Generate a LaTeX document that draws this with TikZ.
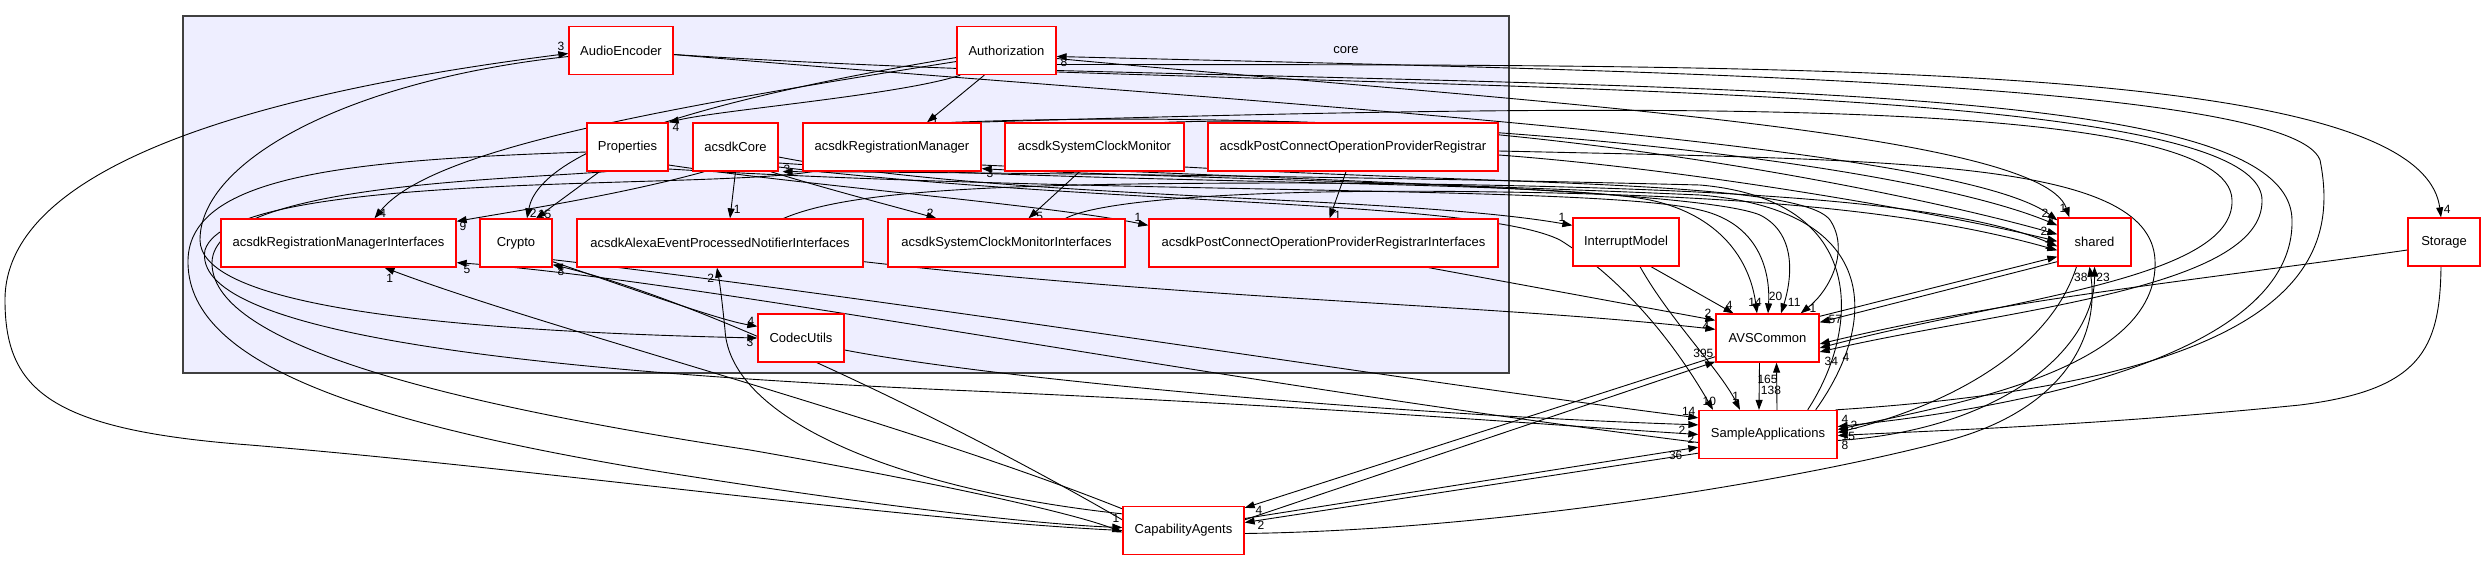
\documentclass[tikz,border=0pt]{standalone}
\usepackage{fontspec}
\setmainfont{Liberation Sans}
\usetikzlibrary{arrows.meta}
\definecolor{clusterfill}{HTML}{EEEEFF}
\definecolor{clusterline}{HTML}{404040}
\pgfdeclarelayer{background}
\pgfdeclarelayer{edges}
\pgfsetlayers{background,edges,main}

\begin{document}
\begin{tikzpicture}[x=1pt, y=-1pt,
	dir/.style={draw=red, line width=1.3pt, fill=white, minimum height=48pt, inner sep=2pt, font=\fontsize{13}{15}\selectfont},
	dep/.style={-{Triangle[length=10pt,width=7pt]}, line width=0.9pt},
	lbl/.style={font=\fontsize{12}{14}\selectfont, inner sep=0.5pt}]
\useasboundingbox (0,0) rectangle (2485,560);

% the core folder
\begin{pgfonlayer}{background}
\node[draw=clusterline, line width=1.3pt, fill=clusterfill, minimum width=1326pt, minimum height=357pt, inner sep=0pt] (core) at (846,194.5) {};
\end{pgfonlayer}
\node[font=\fontsize{13}{15}\selectfont] (coreLabel) at (1346,50.5) {core};

\node[dir, minimum width=104pt] (audioEncoder) at (621,50.5) {AudioEncoder};
\node[dir, minimum width=99pt] (authorization) at (1006.5,50.5) {Authorization};
\node[dir, minimum width=81pt] (properties) at (627.5,147) {Properties};
\node[dir, minimum width=85pt] (acsdkCore) at (735.5,147) {acsdkCore};
\node[dir, minimum width=178pt] (regManager) at (892,147) {acsdkRegistrationManager};
\node[dir, minimum width=179pt] (clockMonitor) at (1094.5,147) {acsdkSystemClockMonitor};
\node[dir, minimum width=290pt] (postConnect) at (1353,147) {acsdkPostConnectOperationProviderRegistrar};
\node[dir, minimum width=235pt] (regManagerIfaces) at (338.5,243) {acsdkRegistrationManagerInterfaces};
\node[dir, minimum width=72pt] (crypto) at (516,243) {Crypto};
\node[dir, minimum width=286pt] (eventNotifierIfaces) at (720,243) {acsdkAlexaEventProcessedNotifierInterfaces};
\node[dir, minimum width=237pt] (clockMonitorIfaces) at (1006.5,243) {acsdkSystemClockMonitorInterfaces};
\node[dir, minimum width=349pt] (postConnectIfaces) at (1323.5,243) {acsdkPostConnectOperationProviderRegistrarInterfaces};
\node[dir, minimum width=86pt] (codecUtils) at (801,338) {CodecUtils};

% outside the folder
\node[dir, minimum width=106pt] (interruptModel) at (1626,242) {InterruptModel};
\node[dir, minimum width=73pt] (shared) at (2094.5,242) {shared};
\node[dir, minimum width=72pt] (storage) at (2444,242) {Storage};
\node[dir, minimum width=103pt] (avsCommon) at (1767.5,338) {AVSCommon};
\node[dir, minimum width=138pt] (sampleApps) at (1768,434.5) {SampleApplications};
\node[dir, minimum width=121pt] (capabilityAgents) at (1183.5,530.5) {CapabilityAgents};

\begin{pgfonlayer}{edges}
% inside core
\draw[dep] ([xshift=4pt]authorization.south west) .. controls (900,95) and (720,110) .. (properties.north east) node[lbl, anchor=north west, xshift=3pt]{4};
\draw[dep] ([xshift=28pt]authorization.south west) -- ([xshift=35pt]regManager.north) node[lbl, anchor=south west, xshift=4pt, yshift=-2pt]{1};
\draw[dep] ([yshift=-7pt]authorization.west) .. controls (700,100) and (540,150) .. ([xshift=11pt]crypto.north) node[lbl, anchor=south west, xshift=2pt]{2};
\draw[dep] ([yshift=-11pt]authorization.west) .. controls (650,110) and (430,150) .. ([xshift=36pt]regManagerIfaces.north) node[lbl, anchor=south west, xshift=4pt]{4};
\draw[dep] ([xshift=-28pt]properties.south) -- ([xshift=20pt]crypto.north) node[lbl, anchor=south west, xshift=1pt, yshift=-1pt]{15};
\draw[dep] (acsdkCore.south) -- ([xshift=10pt]eventNotifierIfaces.north) node[lbl, anchor=south west, xshift=3pt, yshift=4pt]{1};
\draw[dep] ([xshift=12pt]acsdkCore.south west) .. controls (620,195) and (510,212) .. ([yshift=-3pt]regManagerIfaces.north east) node[lbl, anchor=north west, xshift=2pt]{9};
\draw[dep] ([xshift=-8pt]acsdkCore.south east) .. controls (830,190) and (900,208) .. ([xshift=-70pt]clockMonitorIfaces.north) node[lbl, anchor=south east, xshift=-2pt]{2};
\draw[dep] ([xshift=-15pt]clockMonitor.south) -- ([xshift=22pt]clockMonitorIfaces.north) node[lbl, anchor=south west, xshift=7pt, yshift=-3pt]{5};
\draw[dep] ([xshift=-7pt]postConnect.south) -- ([xshift=6pt]postConnectIfaces.north) node[lbl, anchor=south west, xshift=4pt, yshift=-2pt]{1};
\draw[dep] ([yshift=-18pt]properties.east) .. controls (800,185) and (1050,205) .. ([yshift=-7pt]postConnectIfaces.north west) node[lbl, anchor=south east, xshift=-6pt, yshift=3pt]{1};
\draw[dep] ([yshift=-10pt]acsdkCore.east) .. controls (1000,200) and (1400,195) .. ([yshift=-8pt]interruptModel.north west) node[lbl, anchor=south east, xshift=-6pt, yshift=3pt]{1};
\draw[dep] ([yshift=6pt]crypto.south east) .. controls (650,295) and (720,320) .. ([yshift=-13pt]codecUtils.north west) node[lbl, anchor=south east, xshift=-2pt]{4};
\draw[dep] ([yshift=-6pt]audioEncoder.west) .. controls (350,80) and (200,160) .. (200,240) .. controls (200,300) and (400,330) .. (codecUtils.west) node[lbl, anchor=north east, xshift=-3pt, yshift=1pt]{3};

% into core from outside
\draw[dep] ([xshift=-30pt]sampleApps.north east) .. controls (1860,330) and (1870,200) .. (1700,185) .. controls (1300,175) and (900,172) .. ([xshift=4pt]acsdkCore.south east) node[lbl, anchor=south west, yshift=-3pt]{3};
\draw[dep] ([xshift=-22pt]sampleApps.north east) .. controls (1880,320) and (1880,210) .. (1700,195) .. controls (1400,182) and (1100,175) .. ([yshift=3pt]regManager.south east) node[lbl, anchor=north west, xshift=4pt]{3};
\draw[dep] ([xshift=-2pt]sampleApps.north east) .. controls (2300,380) and (2340,260) .. (2320,160) .. controls (2290,80) and (1600,70) .. ([yshift=-6pt]authorization.east) node[lbl, anchor=north west, xshift=3pt, yshift=-1pt]{8};
\draw[dep] (capabilityAgents.west) .. controls (900,520) and (550,470) .. (250,445) .. controls (50,430) and (5,390) .. (5,300) .. controls (5,160) and (280,90) .. ([yshift=-3pt]audioEncoder.west) node[lbl, anchor=south east, xshift=-3pt, yshift=2pt]{3};
\draw[dep] ([yshift=-3pt]capabilityAgents.north west) .. controls (900,420) and (550,330) .. ([xshift=46pt]regManagerIfaces.south) node[lbl, anchor=north west, xshift=1pt, yshift=-6pt]{1};
\draw[dep] ([yshift=-8pt]capabilityAgents.north west) .. controls (900,490) and (730,420) .. (725,330) .. controls (722,300) and (720,285) .. ([xshift=-3pt]eventNotifierIfaces.south) node[lbl, anchor=north east, xshift=-2pt, yshift=-6pt]{2};
\draw[dep] ([yshift=-14pt]capabilityAgents.north west) .. controls (950,420) and (700,300) .. ([yshift=3pt]crypto.south east) node[lbl, anchor=north west, xshift=4pt, yshift=-2pt]{8};
\draw[dep] ([yshift=-8pt]sampleApps.west) .. controls (1200,380) and (700,280) .. ([yshift=5pt]regManagerIfaces.south east) node[lbl, anchor=north west, xshift=6pt, yshift=-2pt]{5};

% from core to shared and Storage
\draw[dep] ([yshift=-8pt]authorization.east) .. controls (1500,100) and (2040,130) .. ([xshift=12pt]shared.north west) node[lbl, anchor=south east, xshift=-2pt, yshift=4pt]{1};
\draw[dep] ([yshift=-4pt]audioEncoder.east) .. controls (1200,100) and (1950,140) .. ([yshift=-3pt]shared.north west) node[lbl, anchor=south east, xshift=-8pt, yshift=2pt]{2};
\draw[dep] ([xshift=-30pt]regManager.north east) .. controls (1400,105) and (1900,160) .. ([yshift=-8pt]shared.north west) node[lbl, anchor=south east, xshift=-1pt, yshift=-1pt]{1};
\draw[dep] ([xshift=-20pt]clockMonitor.north east) .. controls (1500,110) and (1900,190) .. ([yshift=-17pt]shared.north west) node[lbl, anchor=east, xshift=-9pt, yshift=3pt]{2};
\draw[dep] ([yshift=-8pt]postConnect.east) .. controls (1700,170) and (1950,215) .. ([yshift=-24pt]shared.north west) node[lbl, anchor=north east, xshift=-5pt, yshift=1pt]{1};
\draw[dep] ([xshift=-80pt]eventNotifierIfaces.north east) .. controls (850,190) and (1000,183) .. (1300,183) .. controls (1700,185) and (1950,200) .. ([yshift=-29pt]shared.north west);
\draw[dep] ([xshift=-60pt]clockMonitorIfaces.north east) .. controls (1100,200) and (1250,188) .. (1500,192) .. controls (1800,196) and (1950,220) .. ([yshift=-33pt]shared.north west);
\draw[dep] ([yshift=-14pt]authorization.east) .. controls (1800,65) and (2420,60) .. ([xshift=-3pt]storage.north) node[lbl, anchor=south west, xshift=2pt, yshift=3pt]{4};

% AVSCommon and shared
\draw[dep] ([yshift=-3pt]avsCommon.north east) -- ([yshift=10pt]shared.south west) node[lbl, anchor=south east, xshift=-3pt, yshift=4pt]{2};
\draw[dep] ([yshift=5pt]shared.south west) -- ([yshift=-9pt]avsCommon.north east) node[lbl, anchor=west, xshift=8pt, yshift=3pt]{57};

% into AVSCommon
\draw[dep] ([xshift=25pt]interruptModel.south) -- ([xshift=-34pt]avsCommon.north) node[lbl, anchor=south east, yshift=3pt]{4};
\draw[dep] ([yshift=-16pt]acsdkCore.east) .. controls (1100,185) and (1550,180) .. (1650,200) .. controls (1720,215) and (1750,260) .. ([xshift=-10.5pt]avsCommon.north) node[lbl, anchor=south, yshift=6pt, xshift=-2pt]{14};
\draw[dep] ([yshift=-22pt]properties.east) .. controls (1100,195) and (1600,185) .. (1700,210) .. controls (1765,225) and (1770,280) .. ([xshift=0.5pt]avsCommon.north) node[lbl, anchor=south west, yshift=12pt, xshift=0pt]{20};
\draw[dep] ([yshift=-18pt]regManager.east) .. controls (1300,180) and (1700,190) .. (1760,215) .. controls (1800,235) and (1790,285) .. ([xshift=13.5pt]avsCommon.north) node[lbl, anchor=south west, yshift=6pt, xshift=6pt]{11};
\draw[dep] ([yshift=-20pt]clockMonitor.east) .. controls (1500,185) and (1800,180) .. (1830,220) .. controls (1850,250) and (1830,290) .. ([xshift=-19pt]avsCommon.north east) node[lbl, anchor=south west, xshift=8pt]{1};
\draw[dep] ([xshift=-70pt]postConnectIfaces.south east) -- ([yshift=-7pt]avsCommon.north west) node[lbl, anchor=south east, xshift=-3pt, yshift=2pt]{2};
\draw[dep] ([yshift=6pt]eventNotifierIfaces.south east) .. controls (1200,300) and (1500,305) .. ([yshift=-16pt]avsCommon.north west) node[lbl, anchor=east, xshift=-5pt, yshift=3pt]{4};
\draw[dep] ([yshift=-14pt]capabilityAgents.north east) -- ([yshift=1pt]avsCommon.south west) node[lbl, anchor=south east, xshift=-1pt, yshift=3pt]{395};
\draw[dep] ([yshift=6pt]avsCommon.south west) -- ([yshift=-2pt]capabilityAgents.north east) node[lbl, anchor=west, xshift=10pt, yshift=-3pt]{4};
\draw[dep] ([yshift=-4pt]audioEncoder.east) .. controls (1300,95) and (2260,70) .. (2262,200) .. controls (2264,290) and (2000,310) .. ([yshift=-14pt]avsCommon.east) node[lbl, anchor=north west, xshift=4pt, yshift=-4pt]{34};
\draw[dep] ([xshift=-10pt]regManager.north east) .. controls (1700,100) and (2230,100) .. (2232,200) .. controls (2235,280) and (2000,300) .. ([yshift=-10pt]avsCommon.east) node[lbl, anchor=north west, xshift=22pt, yshift=-4pt]{4};
\draw[dep] ([yshift=-8pt]storage.west) .. controls (2200,280) and (2000,300) .. ([yshift=-6pt]avsCommon.east);

% AVSCommon and SampleApplications
\draw[dep] ([xshift=-8pt]avsCommon.south) -- ([xshift=-9pt]sampleApps.north) node[lbl, anchor=south west, xshift=1pt, yshift=14pt]{138};
\draw[dep] ([xshift=9pt]sampleApps.north) -- ([xshift=9pt]avsCommon.south) node[lbl, anchor=north east, xshift=2pt, yshift=-12pt]{165};

% into SampleApplications
\draw[dep] ([xshift=14pt]interruptModel.south) .. controls (1670,320) and (1720,370) .. ([xshift=-28pt]sampleApps.north) node[lbl, anchor=south east, yshift=8pt]{1};
\draw[dep] ([yshift=-20pt]acsdkCore.east) .. controls (1100,205) and (1480,200) .. (1560,240) .. controls (1640,290) and (1690,370) .. ([xshift=-55pt]sampleApps.north) node[lbl, anchor=south east, yshift=3pt, xshift=4pt]{10};
\draw[dep] ([yshift=8pt]crypto.south east) .. controls (900,300) and (1400,380) .. ([yshift=-8pt]sampleApps.north west) node[lbl, anchor=south east, xshift=-2pt, yshift=1pt]{14};
\draw[dep] ([yshift=-12pt]codecUtils.east) .. controls (1000,380) and (1400,415) .. ([yshift=-15pt]sampleApps.north west) node[lbl, anchor=north east, xshift=-12pt]{2};
\draw[dep] ([xshift=10pt]regManager.south west) .. controls (700,190) and (230,170) .. (205,250) .. controls (190,330) and (500,370) .. (950,390) .. controls (1300,405) and (1550,425) .. (sampleApps.west) node[lbl, anchor=north east, xshift=-3pt]{2};
\draw[dep] ([yshift=12pt]capabilityAgents.east) -- ([yshift=12pt]sampleApps.south west) node[lbl, anchor=north east, xshift=-15pt, yshift=-3pt]{36};
\draw[dep] ([yshift=6pt]sampleApps.south west) -- ([yshift=8pt]capabilityAgents.east) node[lbl, anchor=north west, xshift=12pt, yshift=2pt]{2};
\draw[dep] ([yshift=-20pt]authorization.east) .. controls (1800,90) and (2290,90) .. (2292,220) .. controls (2295,360) and (2000,410) .. ([yshift=8pt]sampleApps.east) node[lbl, anchor=south west, xshift=3pt, yshift=2pt]{4};
\draw[dep] ([yshift=-4pt]postConnect.east) .. controls (1900,160) and (2150,160) .. (2155,260) .. controls (2160,370) and (1950,405) .. ([yshift=5pt]sampleApps.east) node[lbl, anchor=west, xshift=12pt, yshift=4pt]{2};
\draw[dep] ([xshift=-18pt]shared.south) .. controls (2050,350) and (1950,405) .. ([yshift=2pt]sampleApps.east) node[lbl, anchor=west, xshift=3pt, yshift=-4pt]{15};
\draw[dep] ([xshift=-3pt]storage.south) .. controls (2440,350) and (2420,390) .. (2300,405) .. controls (2100,425) and (1950,430) .. ([yshift=-1pt]sampleApps.east) node[lbl, anchor=north west, xshift=3pt, yshift=-5pt]{8};
\draw[dep] ([yshift=-6pt]sampleApps.east) .. controls (2000,430) and (2095,350) .. (shared.south) node[lbl, anchor=north west, xshift=1pt, yshift=-6pt]{23};
\draw[dep] ([yshift=-3pt]capabilityAgents.east) .. controls (1500,530) and (1800,480) .. (1950,440) .. controls (2060,410) and (2100,340) .. ([xshift=-5pt]shared.south) node[lbl, anchor=north east, xshift=-1pt, yshift=-6pt]{38};

% into CapabilityAgents
\draw[dep] ([yshift=-5pt]properties.west) .. controls (350,160) and (190,175) .. (188,260) .. controls (186,360) and (350,420) .. (650,470) .. controls (900,510) and (1050,525) .. ([yshift=3pt]capabilityAgents.west) node[lbl, anchor=south east, xshift=-2pt, yshift=4pt]{1};
\draw[dep] ([xshift=20pt]properties.south west) .. controls (500,180) and (215,185) .. (212,262) .. controls (210,340) and (420,400) .. (750,450) .. controls (950,485) and (1080,515) .. ([yshift=-2pt]capabilityAgents.west);
\end{pgfonlayer}
\end{tikzpicture}
\end{document}
